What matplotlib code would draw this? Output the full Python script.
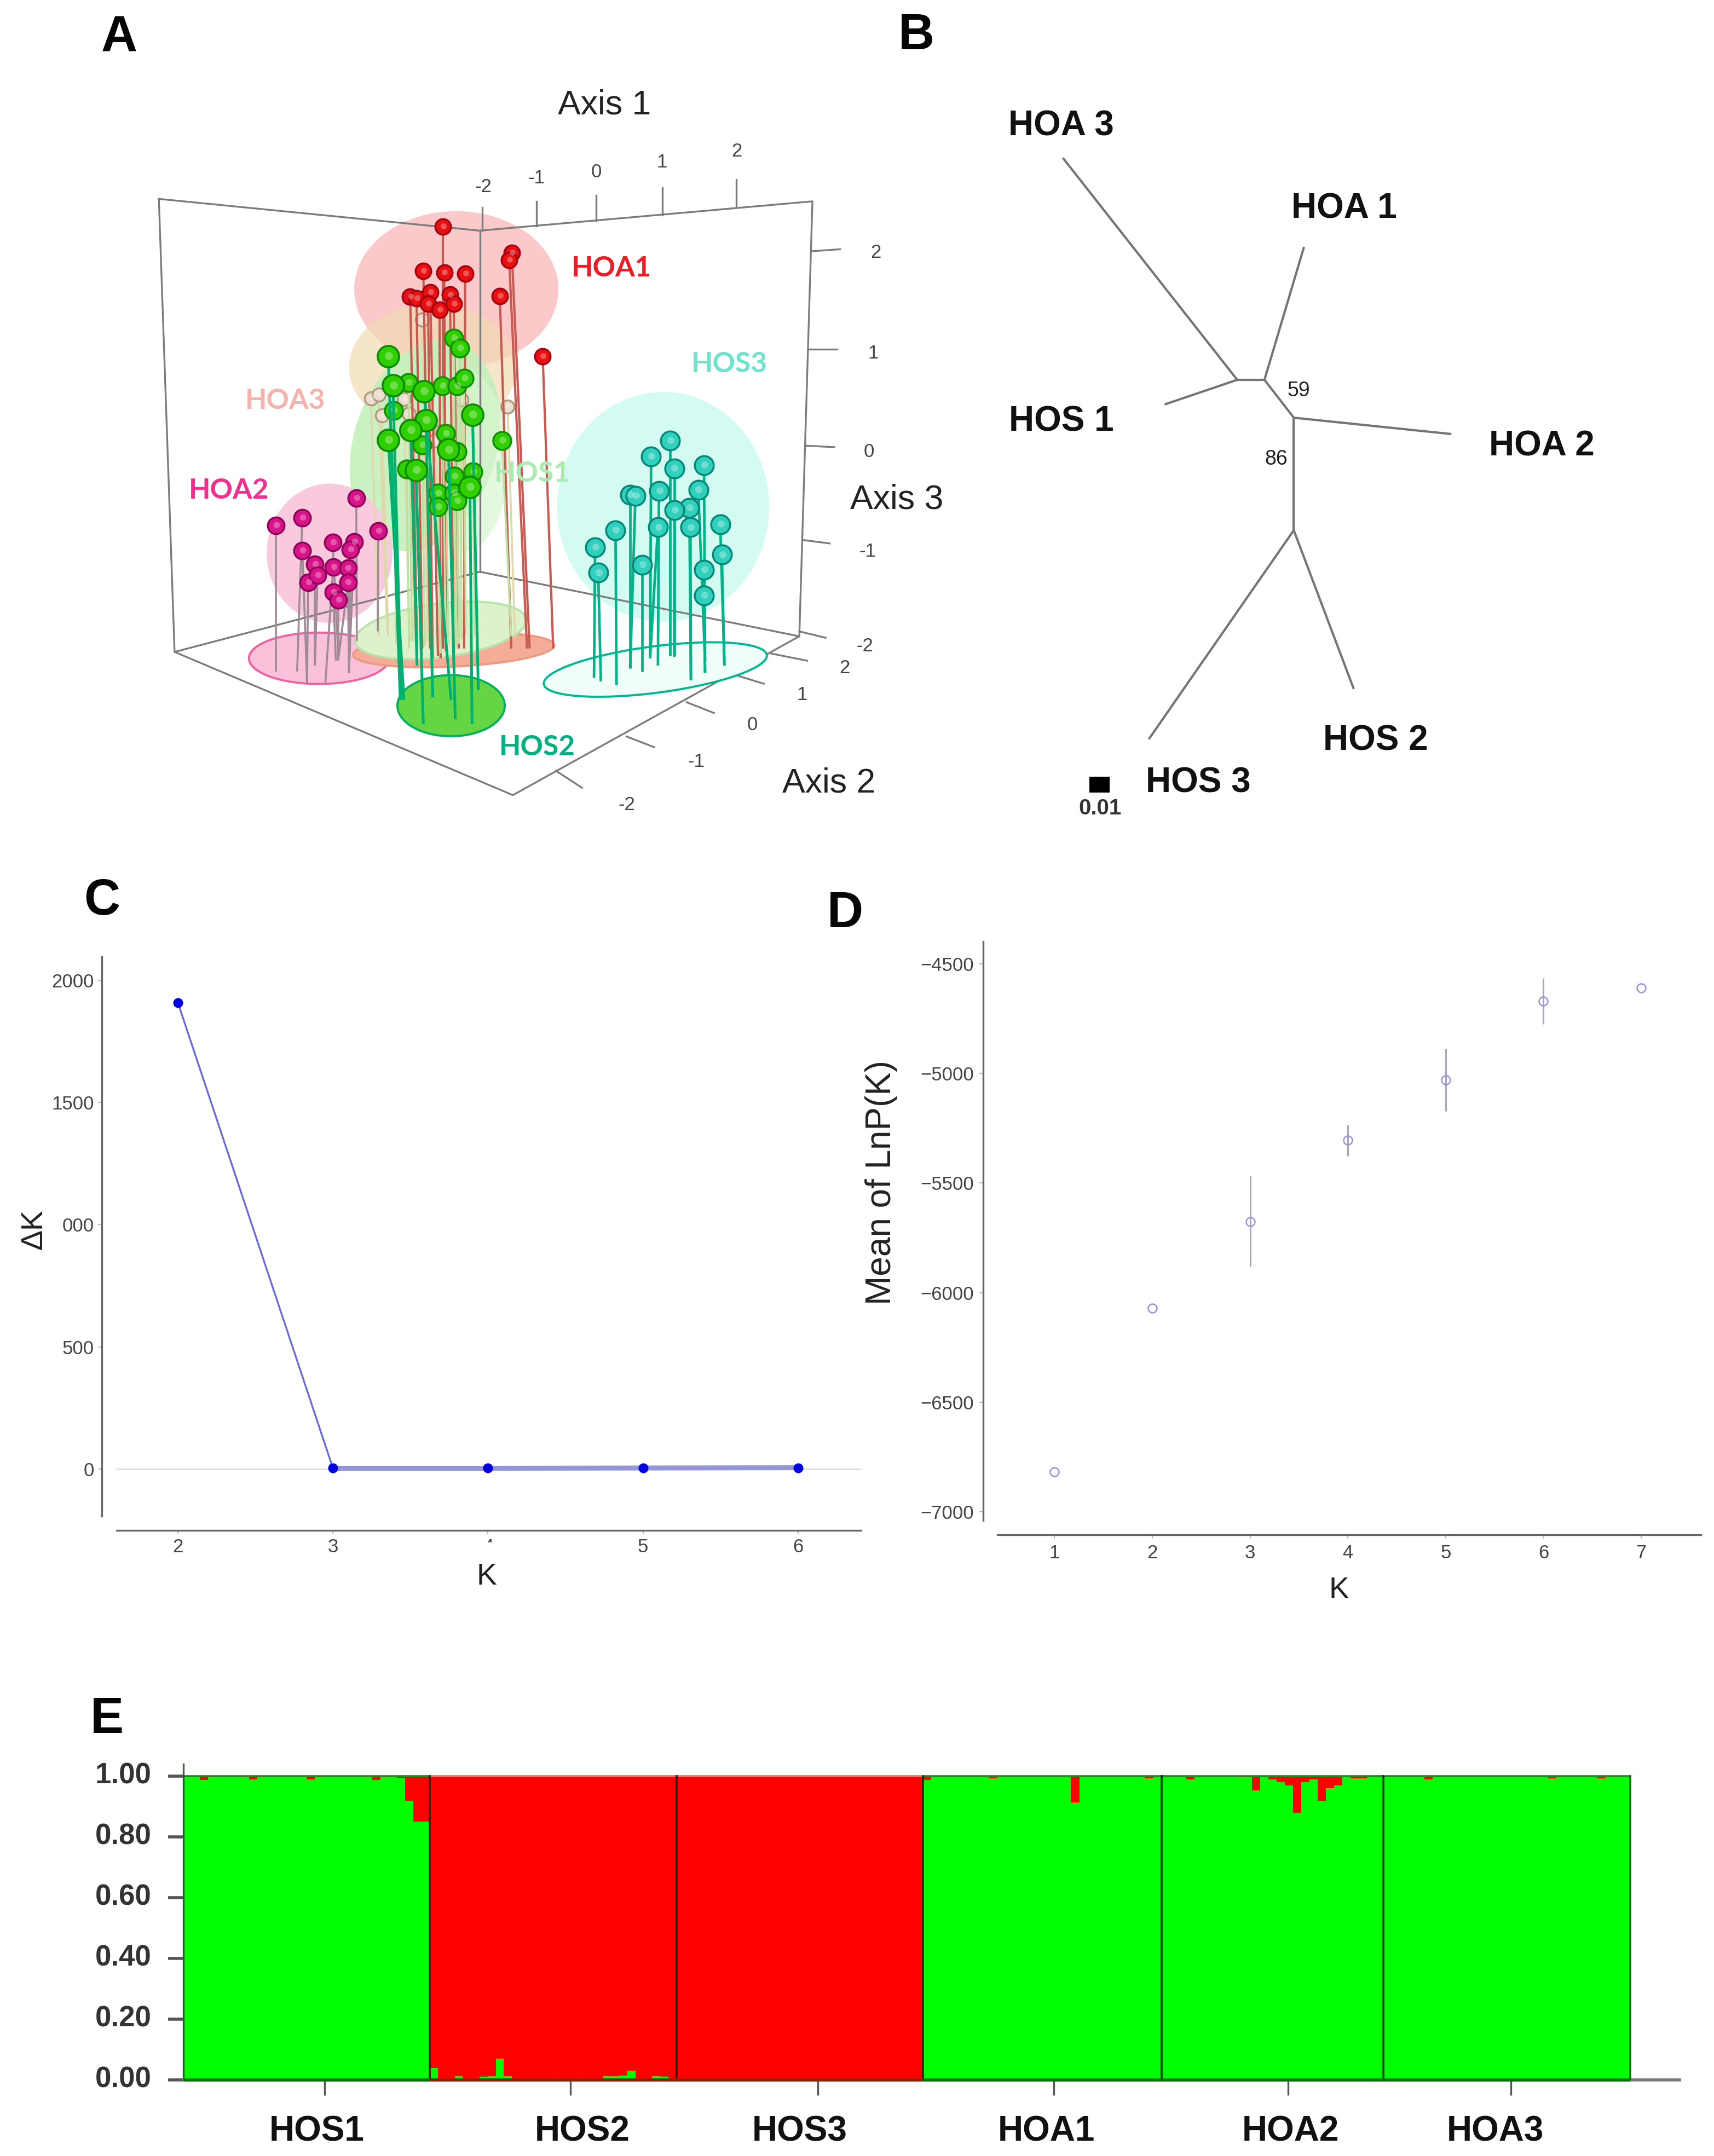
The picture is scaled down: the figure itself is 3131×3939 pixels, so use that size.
import matplotlib
matplotlib.use("Agg")
import matplotlib.pyplot as plt
from matplotlib.patches import Ellipse, Rectangle
from matplotlib.transforms import Bbox, ScaledTranslation
import numpy as np

W, H = 3131, 3939
plt.rcParams['font.family'] = ['Liberation Sans', 'DejaVu Sans']

# ---------- Panel A: values (panel units) ----------
hoa1_x  = [584, 716, 711, 547, 587, 627, 693, 775, 522, 534, 560, 598, 605, 556, 578]
hoa1_y  = [352, 405, 420, 442, 446, 448, 494, 617, 495, 498, 486, 491, 510, 510, 522]
hoa1_bx = [584, 750, 745, 560, 590, 625, 715, 795, 535, 545, 575, 605, 615, 565, 580]
hoa1_by = [1215, 1215, 1215, 1215, 1220, 1215, 1215, 1215, 1210, 1215, 1230, 1225, 1215, 1235, 1235]

hoa3_x  = [447, 462, 468, 520, 510, 620, 708, 580, 570, 545]
hoa3_y  = [703, 695, 738, 735, 705, 706, 720, 770, 790, 542]
hoa3_bx = [462, 478, 480, 530, 520, 628, 722, 590, 580, 555]
hoa3_by = [1190, 1180, 1190, 1200, 1195, 1185, 1190, 1200, 1205, 1200]

hos1_x  = [605, 617, 519, 583, 612, 625, 490, 697, 545, 590, 612, 515, 606, 642, 575, 605, 575, 612]
hos1_y  = [580, 600, 671, 678, 678, 662, 728, 790, 798, 775, 812, 848, 862, 853, 897, 897, 925, 913]
hos1_bx = [610, 620, 525, 590, 615, 628, 495, 715, 550, 595, 615, 520, 610, 645, 580, 610, 580, 615]
hos1_by = [1190, 1195, 1200, 1190, 1185, 1170, 1205, 1190, 1210, 1205, 1190, 1215, 1205, 1190, 1225, 1215, 1225, 1205]

hos2_x  = [480, 641, 480, 533, 595, 636, 552, 523, 548, 489]
hos2_y  = [617, 737, 788, 850, 808, 885, 748, 768, 689, 677]
hos2_bx = [503, 652, 510, 547, 608, 640, 565, 535, 600, 505]
hos2_by = [1320, 1300, 1320, 1370, 1360, 1370, 1315, 1250, 1320, 1320]

hos3_x  = [1018, 982, 1083, 1026, 997, 1072, 942, 952, 1055, 1027, 995, 1057, 1114, 914, 875, 1117, 965, 1083, 881, 1083]
hos3_y  = [790, 822, 840, 847, 893, 890, 900, 903, 927, 932, 967, 967, 961, 973, 1008, 1023, 1044, 1054, 1060, 1106]
hos3_bx = [1018, 980, 1085, 1026, 995, 1085, 942, 942, 1058, 1026, 980, 1058, 1122, 916, 873, 1122, 965, 1085, 886, 1085]
hos3_by = [1230, 1235, 1240, 1230, 1250, 1240, 1255, 1255, 1280, 1232, 1235, 1280, 1250, 1290, 1275, 1250, 1262, 1265, 1282, 1265]

hoa2_x  = [266, 316, 419, 461, 316, 374, 415, 408, 340, 375, 403, 327, 403, 345, 375, 385]
hoa2_y  = [963, 947, 907, 974, 1015, 998, 997, 1012, 1043, 1048, 1050, 1080, 1080, 1065, 1100, 1115]
hoa2_bx = [266, 306, 420, 460, 325, 385, 405, 405, 340, 360, 405, 325, 385, 340, 380, 385]
hoa2_by = [1262, 1262, 1200, 1180, 1285, 1235, 1265, 1265, 1250, 1285, 1265, 1285, 1235, 1250, 1240, 1240]

# ---------- Panel B: tree branches ----------
tree_x0 = [358, 553, 690, 817, 742, 1097, 798, 522, 912]
tree_y0 = [293, 747, 702, 458, 702, 802, 772, 1365, 1272]
tree_x1 = [690, 690, 742, 742, 798, 798, 798, 798, 798]
tree_y1 = [702, 702, 702, 702, 772, 772, 980, 980, 980]
tree_names = ['HOA 3', 'HOA 1', 'HOS 1', 'HOA 2', 'HOS 2', 'HOS 3']
tree_nx = [356, 896, 356, 1273, 956, 617]
tree_ny = [228, 381, 774, 820, 1364, 1442]

# ---------- Panel C ----------
c_k = [2, 3, 4, 5, 6]
c_dk = [1908, 3, 3, 4, 5]
c_yticks = [0, 500, 1000, 1500, 2000]
c_ylabels = ['0', '500', '000', '1500', '2000']

# ---------- Panel D ----------
d_k = [1, 2, 3, 4, 5, 6, 7]
d_mean = [-6818, -6070, -5676, -5305, -5029, -4671, -4610]
d_low = [-6818, -6070, -5882, -5378, -5172, -4776, -4610]
d_high = [-6818, -6070, -5467, -5234, -4888, -4565, -4610]
d_yticks = [-7000, -6500, -6000, -5500, -5000, -4500]
d_ylabels = ['\u22127000', '\u22126500', '\u22126000', '\u22125500', '\u22125000', '\u22124500']

# ---------- Panel E: red share for each individual ----------
e_pops = ['HOS1', 'HOS2', 'HOS3', 'HOA1', 'HOA2', 'HOA3']
e_red_hos1 = [.002, .002, .012, .004, .002, .002, .002, .003, .010, .003,
              .002, .002, .002, .002, .002, .010, .004, .002, .002, .002,
              .002, .002, .004, .012, .004, .002, .005, .08, .15, .15]
e_green_hos2 = [.04, .002, .002, .012, .002, .002, .010, .012, .07, .012,
                .002, .002, .002, .002, .002, .006, .002, .002, .006, .002,
                .002, .012, .012, .015, .03, .003, .002, .012, .010, .002]
e_green_hos3 = [.001, .001, .001, .001, .001, .001, .006, .001, .001, .001,
                .001, .001, .001, .001, .001, .001, .001, .001, .001, .001,
                .001, .001, .001, .001, .001, .001, .001, .001, .001, .001]
e_red_hoa1 = [.012, .002, .002, .002, .002, .002, .002, .002, .006, .002,
              .002, .002, .002, .002, .002, .002, .002, .002, .087, .002,
              .002, .002, .002, .002, .002, .002, .002, .006, .002]
e_red_hoa2 = [.002, .002, .002, .010, .002, .002, .002, .002, .002, .004,
              .004, .046, .002, .010, .020, .030, .120, .020, .010, .080,
              .040, .030, .002, .006, .006, .002, .002]
e_red_hoa3 = [.002, .002, .002, .002, .002, .010, .002, .002, .002, .002,
              .002, .002, .002, .002, .002, .002, .002, .002, .002, .002,
              .006, .002, .002, .002, .002, .002, .006, .002, .002, .002]
e_yticks = [0, .2, .4, .6, .8, 1.0]
e_ylabels = ['0.00', '0.20', '0.40', '0.60', '0.80', '1.00']
e_tick_positions = [17.2, 47.1, 77.2, 105.9, 134.4, 161.5]
e_label_centres = [16.2, 48.5, 75, 105, 134.7, 159.6]


def axes_px(left, top, right, bottom, **kw):
    return fig.add_axes([left / W, 1 - bottom / H, (right - left) / W, (bottom - top) / H], **kw)


fig = plt.figure(figsize=(W / 100, H / 100), dpi=100, facecolor='white')

# ================= Panel A =================
a = axes_px(250, 100, 1750, 1500)
a.set_xlim(0, 1568); a.set_ylim(1568, 0); a.axis('off')

blobs = [((610, 480), 390, 320, 0, '#fbc9c9', 1),
         ((565, 640), 320, 260, 0, '#f1dcb4', .7),
         ((550, 800), 275, 440, 14, '#c4f0bc', .9),
         ((625, 830), 170, 370, 0, '#d8f6d0', .7),
         ((368, 1020), 240, 285, 0, '#f9c9de', 1),
         ((1005, 925), 405, 470, 0, '#d3fbf2', 1)]
for c, w, h, ang, col, al in blobs:
    a.add_patch(Ellipse(c, w, h, angle=ang, fc=col, ec='none', alpha=al, zorder=1))

box = '#7c7c7c'
box_x = [42, 72, 718, 1265, 1290, 655, 42]
box_y = [295, 1222, 1515, 1190, 300, 360, 295]
a.plot(box_x, box_y, color=box, lw=2.4, zorder=2)
a.plot([655, 655], [360, 1058], color=box, lw=2.4, zorder=2)
a.plot([72, 655, 1265], [1222, 1058, 1190], color=box, lw=2.4, zorder=2)

floors = [((348, 1235), 268, 105, 0, '#f9c2da', '#f2609f'),
          ((605, 1218), 385, 68, -3, '#f5ad98', '#ec9a80'),
          ((580, 1178), 330, 110, -8, '#dcf1cc', '#b8e4a8'),
          ((600, 1332), 205, 125, 0, '#66d544', '#00b060'),
          ((990, 1258), 430, 95, -8, '#f1fdf9', '#00b890')]
for c, w, h, ang, col, ec in floors:
    a.add_patch(Ellipse(c, w, h, angle=ang, fc=col, ec=ec, lw=2.8, zorder=3))

axis_ticks = [
    ([660, 660], [360, 313]), ([763, 763], [350, 300]), ([877, 877], [340, 288]),
    ([1003, 1003], [328, 272]), ([1145, 1145], [313, 255]),
    ([1290, 1343], [402, 398]), ([1282, 1337], [603, 603]), ([1278, 1332], [800, 803]),
    ([1272, 1323], [993, 1000]), ([1265, 1315], [1180, 1193]),
    ([800, 850], [1465, 1500]), ([935, 988], [1395, 1417]), ([1050, 1102], [1325, 1347]),
    ([1145, 1197], [1270, 1287]), ([1210, 1280], [1225, 1240])]
for tx, ty in axis_ticks:
    a.plot(tx, ty, color=box, lw=2.4, zorder=2)
tick_text = [('-2', 662, 268), ('-1', 763, 250), ('0', 877, 237), ('1', 1003, 217), ('2', 1146, 195),
             ('2', 1411, 402), ('1', 1406, 608), ('0', 1398, 810), ('-1', 1395, 1013), ('-2', 1390, 1207),
             ('-2', 935, 1532), ('-1', 1068, 1443), ('0', 1175, 1368), ('1', 1270, 1307), ('2', 1352, 1252)]
for s, x, y in tick_text:
    a.text(x, y + 3, s, ha='center', va='center', fontsize=25, color='#444444')
for s, x, y in [('Axis 1', 895, 97), ('Axis 3', 1453, 905), ('Axis 2', 1323, 1485)]:
    a.text(x - 2, y + 6, s, ha='center', va='center', fontsize=45, color='#222222')


def spheres(x, y, bx, by, stem, face, edge, size, z, lw=2.2):
    for x0, y0, x1, y1 in zip(x, y, bx, by):
        a.plot([x0, x1], [y0, y1], color=stem, lw=lw, zorder=z, solid_capstyle='butt')
    a.scatter(x, y, s=size, c=face, edgecolors=edge, linewidths=2.5, zorder=z + .5)
    a.scatter(np.array(x) + 1, np.array(y) - 1, s=size * .14, c='white', alpha=.3, linewidths=0, zorder=z + .6)


spheres(hoa3_x, hoa3_y, hoa3_bx, hoa3_by, '#e0d8a8', '#eadfd0', '#b09a80', 300, 4, lw=2.6)
spheres(hoa1_x, hoa1_y, hoa1_bx, hoa1_by, '#c85a52', '#e81010', '#a80010', 420, 5, lw=3)
spheres(hos1_x, hos1_y, hos1_bx, hos1_by, '#bfe0a0', '#30d000', '#109000', 560, 6, lw=2.6)
spheres(hoa2_x, hoa2_y, hoa2_bx, hoa2_by, '#a08a98', '#d8148a', '#90005a', 480, 6, lw=2.6)
spheres(hos3_x, hos3_y, hos3_bx, hos3_by, '#00b388', '#30d0bc', '#008878', 620, 6, lw=3.4)
spheres(hos2_x, hos2_y, hos2_bx, hos2_by, '#00b070', '#30d000', '#0a8a00', 800, 7, lw=3.6)

group_labels = [('HOA1', 908, 432, '#ee1c25'), ('HOS3', 1133, 628, '#6fe3cc'), ('HOA3', 285, 703, '#f4b4ac'),
                ('HOS1', 757, 852, '#a8ecb0'), ('HOA2', 178, 887, '#f0308f'), ('HOS2', 767, 1412, '#00b080')]
for s, x, y, col in group_labels:
    a.text(x - 2, y + 5, s, ha='center', va='center', fontsize=37, color=col, fontweight='bold',
           family='Lato', zorder=9)

# ================= Panel B =================
b = axes_px(1600, 0, 3100, 1550)
b.set_xlim(0, 1568); b.set_ylim(1568, 0); b.axis('off')
for x0, y0, x1, y1 in zip(tree_x0, tree_y0, tree_x1, tree_y1):
    b.plot([x0, x1], [y0, y1], color='#757575', lw=3, solid_capstyle='round')
for s, x, y in zip(tree_names, tree_nx, tree_ny):
    b.text(x - 2, y + 5, s, ha='center', va='center', fontsize=46, fontweight='bold', color='#111111')
b.text(807, 722, '59', ha='center', va='center', fontsize=27, color='#222222')
b.text(764, 849, '86', ha='center', va='center', fontsize=27, color='#222222')
b.add_patch(Rectangle((408, 1435), 38, 30, fc='black', ec='none'))
b.text(428, 1494, '0.01', ha='center', va='center', fontsize=29, fontweight='bold', color='#333333')

# ================= Panel C =================
c = axes_px(213, 1748, 1573, 2770)
c.set_xlim(1.6046, 6.406); c.set_ylim(-193, 2096)
c.axhline(0, color='#dddddd', lw=2.2, zorder=1)
c.plot(c_k[:2], c_dk[:2], color='#6a6ad8', lw=2.4, zorder=2)
c.plot(c_k[1:], c_dk[1:], color='#9494d8', lw=6.5, zorder=2)
c.plot(c_k, c_dk, ls='none', marker='o', ms=13, color='#0000e0', mec='none', zorder=3)
c.set_xticks(c_k); c.set_yticks(c_yticks); c.set_yticklabels(c_ylabels)

# ================= Panel D =================
d = axes_px(1822, 1720, 3107, 2778)
d.set_xlim(.415, 7.61); d.set_ylim(-7040, -4398)
d.vlines(d_k, d_low, d_high, color='#a8a8b8', lw=2.2, zorder=2)
d.plot(d_k, d_mean, ls='none', marker='o', ms=11.5, mfc='none', mec='#9a90e0', mew=1.8, zorder=3)
d.set_xticks(d_k); d.set_yticks(d_yticks); d.set_yticklabels(d_ylabels)

for ax, out_l, out_b, pad in [(c, 27, 26, 5), (d, 26, 26, 7)]:
    ax.patch.set_visible(False)
    for s in ('top', 'right'):
        ax.spines[s].set_visible(False)
    ax.spines['left'].set_position(('outward', out_l * .72))
    ax.spines['bottom'].set_position(('outward', out_b * .72))
    for s in ('left', 'bottom'):
        ax.spines[s].set_color('#666666'); ax.spines[s].set_linewidth(2.4)
    ax.tick_params(axis='both', labelsize=25, labelcolor='#444444', color='#bbbbbb', length=5, width=1.5, pad=pad)

# the '4' under panel C is cut off in the source, only its top shows
c.get_xticklabels()[2].set_clip_box(Bbox([[0, H - 2818], [W, H - 2790]]))
c.get_xticklabels()[2].set_clip_on(True)

fig.text(889 / W, 1 - 2881 / H, 'K', ha='center', va='center', fontsize=40, color='#222222')
fig.text(2446 / W, 1 - 2906 / H, 'K', ha='center', va='center', fontsize=40, color='#222222')
fig.text(62 / W, 1 - 2246 / H, '\u0394K', ha='center', va='center', fontsize=40, rotation=90, color='#222222')
fig.text(1610 / W, 1 - 2161 / H, 'Mean of LnP(K)', ha='center', va='center', fontsize=46, rotation=90, color='#222222')

# ================= Panel E =================
e = axes_px(335, 3223, 3067.6, 3800)
e.patch.set_visible(False)
e.set_xlim(0, 182); e.set_ylim(0, 1.04)
red = np.concatenate([e_red_hos1, 1 - np.array(e_green_hos2), 1 - np.array(e_green_hos3),
                      e_red_hoa1, e_red_hoa2, e_red_hoa3])
green = 1 - red
xs = np.arange(len(red)) + .5
e.bar(xs, green, width=1.02, color='#00ff00', lw=0, zorder=1)
e.bar(xs, red, width=1.02, bottom=green, color='#ff0000', lw=0, zorder=1)
sizes = [len(e_red_hos1), len(e_green_hos2), len(e_green_hos3), len(e_red_hoa1), len(e_red_hoa2), len(e_red_hoa3)]
edges = np.concatenate([[0], np.cumsum(sizes)])
for i, x in enumerate(edges):
    dark = '#3a1a00' if 1 <= i <= 2 else '#003a00'
    e.plot([x, x], [0, 1], color=dark if 0 < i < 6 else '#007000', lw=2.6, zorder=3)
for i in range(6):
    col = '#f07070' if e_pops[i] in ('HOS2', 'HOS3') else '#1c8a1c'
    e.plot([edges[i], edges[i + 1]], [1, 1], color=col, lw=2.6, zorder=2, solid_capstyle='butt')
    col = '#8a2000' if e_pops[i] in ('HOS2', 'HOS3') else '#007000'
    e.plot([edges[i], edges[i + 1]], [0, 0], color=col, lw=4, zorder=4, solid_capstyle='butt', clip_on=False)
for s in ('top', 'right'):
    e.spines[s].set_visible(False)
e.spines['left'].set_color('#555555'); e.spines['left'].set_linewidth(2.4)
e.spines['bottom'].set_color('#777777'); e.spines['bottom'].set_linewidth(4)
e.set_yticks(e_yticks); e.set_yticklabels(e_ylabels)
e.set_xticks(e_tick_positions); e.set_xticklabels([])
e.tick_params(axis='y', labelsize=38, labelcolor='#333333', color='#555555', length=20, width=4, pad=22)
e.tick_params(axis='x', color='#555555', length=20, width=2.4)
for lab in e.get_yticklabels():
    lab.set_fontweight('bold')
    lab.set_transform(lab.get_transform() + ScaledTranslation(0, 6 / 100, fig.dpi_scale_trans))
for s, x in zip(e_pops, e_label_centres):
    e.text(x, -.171, s, ha='center', va='center', fontsize=46, fontweight='bold', color='#111111', clip_on=False)

# ================= Panel letters =================
for s, x, y in [('A', 218, 69), ('B', 1674, 66), ('C', 186, 1647), ('D', 1544, 1670), ('E', 195, 3142)]:
    fig.text(x / W, 1 - y / H, s, ha='center', va='center', fontsize=66, fontweight='bold', color='#050505')

fig.savefig('out.png', dpi=100, facecolor='white')
